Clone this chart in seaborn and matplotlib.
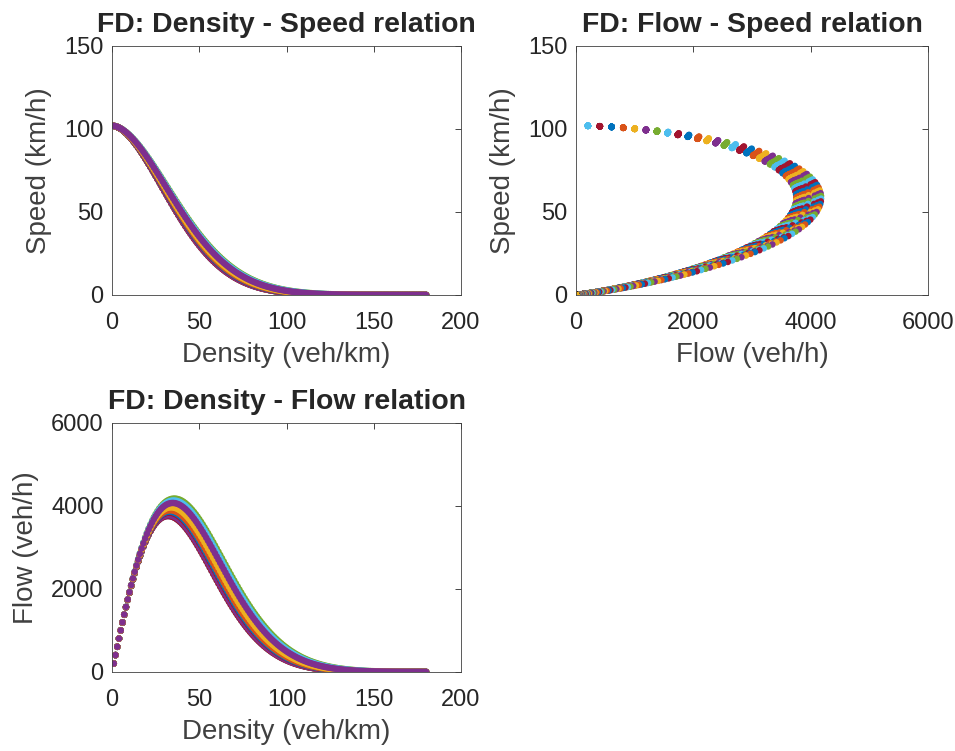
import numpy as np
import pandas as pd
import seaborn as sns
import matplotlib.pyplot as plt

# fundamental diagram parameters
free_speed = 102          # km/h, where every curve starts
shape = 1.8               # exponent of the speed-density curve
lanes = 2                 # flow = lanes * density * speed
densities = np.arange(1, 181)   # veh/km grid, one dot per 1 veh/km
# critical density of each curve, in the order the curves are drawn
critical_density = [32.3, 32.8, 32.5, 32.9, 32.4, 32.1, 32.7,
                    32.5, 33.0, 32.2, 32.8, 32.6, 32.9, 32.1,
                    32.7, 32.4, 32.9, 32.3, 35.7, 35.3, 32.8,
                    33.0, 33.3, 33.9, 34.8]

matlab_colors = ["#0072BD", "#D95319", "#EDB120", "#7E2F8E",
                 "#77AC30", "#4DBEEE", "#A2142F"]

rows = []
for i, kc in enumerate(critical_density):
    for k in densities:
        v = free_speed * np.exp(-(k / kc) ** shape / shape)
        rows.append({"curve": i, "density": k, "speed": v, "flow": lanes * k * v})
df = pd.DataFrame(rows)
df_by_density = df.sort_values(["density", "curve"], kind="stable")

curve_pal = {i: matlab_colors[i % 7] for i in range(len(critical_density))}
dens_pal = {k: matlab_colors[(j + 5) % 7] for j, k in enumerate(densities)}

sns.set_theme(style="white")
plt.rcParams["font.family"] = ["Liberation Sans", "DejaVu Sans"]
plt.rcParams.update({
    "xtick.direction": "in", "ytick.direction": "in",
    "xtick.top": True, "ytick.right": True,
    "xtick.major.size": 4, "ytick.major.size": 4,
    "xtick.major.width": 0.6, "ytick.major.width": 0.6,
    "xtick.color": "#262626", "ytick.color": "#262626",
    "axes.edgecolor": "#404040", "axes.linewidth": 0.6,
})

fig = plt.figure(figsize=(9.55, 7.51), dpi=100)
ax1 = fig.add_axes([0.1173, 0.6072, 0.3654, 0.3316])
ax2 = fig.add_axes([0.6031, 0.6072, 0.3686, 0.3316])
ax3 = fig.add_axes([0.1173, 0.1052, 0.3654, 0.3316])

dot = 22
sns.scatterplot(data=df, x="density", y="speed", hue="curve", palette=curve_pal,
                s=dot, linewidth=0, legend=False, ax=ax1)
sns.scatterplot(data=df_by_density, x="flow", y="speed", hue="density",
                palette=dens_pal, s=dot, linewidth=0, legend=False, ax=ax2)
sns.scatterplot(data=df, x="density", y="flow", hue="curve", palette=curve_pal,
                s=dot, linewidth=0, legend=False, ax=ax3)

setup = [
    (ax1, "FD: Density - Speed relation", "Density (veh/km)", "Speed (km/h)",
     (0, 200), [0, 50, 100, 150, 200], (0, 150), [0, 50, 100, 150]),
    (ax2, "FD: Flow - Speed relation", "Flow (veh/h)", "Speed (km/h)",
     (0, 6000), [0, 2000, 4000, 6000], (0, 150), [0, 50, 100, 150]),
    (ax3, "FD: Density - Flow relation", "Density (veh/km)", "Flow (veh/h)",
     (0, 200), [0, 50, 100, 150, 200], (0, 6000), [0, 2000, 4000, 6000]),
]
for ax, title, xl, yl, xlim, xt, ylim, yt in setup:
    ax.set_xlim(*xlim)
    ax.set_ylim(*ylim)
    ax.set_xticks(xt)
    ax.set_yticks(yt)
    ax.tick_params(axis="x", labelsize=17, pad=12)
    ax.tick_params(axis="y", labelsize=17, pad=6)
    ax.set_title(title, fontsize=20.4, fontweight="bold", color="#262626", pad=10)
    ax.set_xlabel(xl, fontsize=20, color="#404040", labelpad=6)
    ax.set_ylabel(yl, fontsize=20, color="#404040", labelpad=9)
    for sp in ax.spines.values():
        sp.set_visible(True)

plt.savefig("out.png", dpi=100)
